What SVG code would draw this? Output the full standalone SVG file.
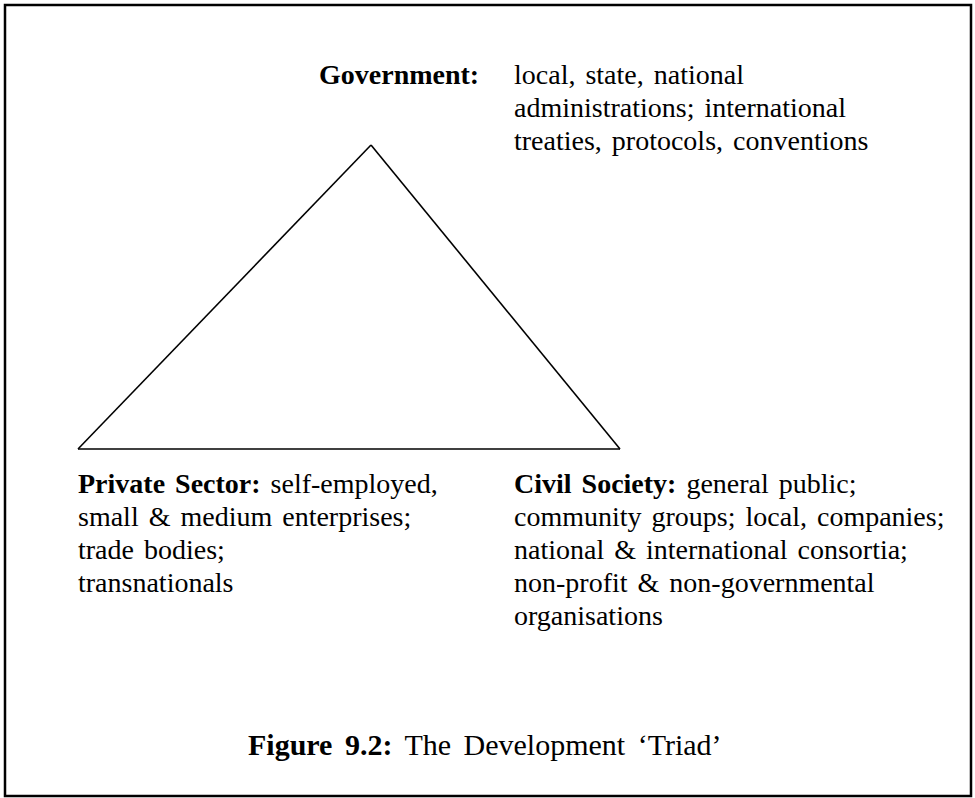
<svg xmlns="http://www.w3.org/2000/svg" width="975" height="798" viewBox="0 0 975 798">
<style>
  text { font-family: "Liberation Serif", "Times New Roman", serif; font-size: 28px; fill: #000; word-spacing: 3px; }
  .b { font-weight: bold; }
  .cap { font-size: 30px; word-spacing: 5px; }
  .edge { fill: none; stroke: #000; stroke-width: 1.6; }
</style>
<rect x="5" y="5" width="966" height="791" fill="#fff" stroke="#000" stroke-width="2.5"/>
<g id="connectors">
  <line class="edge" x1="371" y1="145" x2="78" y2="449"/>
  <line class="edge" x1="371" y1="145" x2="620" y2="449"/>
  <line class="edge" x1="78" y1="449" x2="620" y2="449"/>
</g>
<g id="government">
  <text x="319" y="84" class="b">Government:</text>
  <text x="514" y="84">local, state, national</text>
  <text x="514" y="117">administrations; international</text>
  <text x="514" y="150">treaties, protocols, conventions</text>
</g>
<g id="private-sector">
  <text x="78" y="493"><tspan class="b">Private Sector:</tspan> self-employed,</text>
  <text x="78" y="526">small &amp; medium enterprises;</text>
  <text x="78" y="559">trade bodies;</text>
  <text x="78" y="592">transnationals</text>
</g>
<g id="civil-society">
  <text x="514" y="493"><tspan class="b">Civil Society:</tspan> general public;</text>
  <text x="514" y="526">community groups; local, companies;</text>
  <text x="514" y="559">national &amp; international consortia;</text>
  <text x="514" y="592">non-profit &amp; non-governmental</text>
  <text x="514" y="625">organisations</text>
</g>
<g id="caption">
  <text x="248" y="755" class="cap"><tspan class="b">Figure 9.2:</tspan> The Development ‘Triad’</text>
</g>
</svg>
